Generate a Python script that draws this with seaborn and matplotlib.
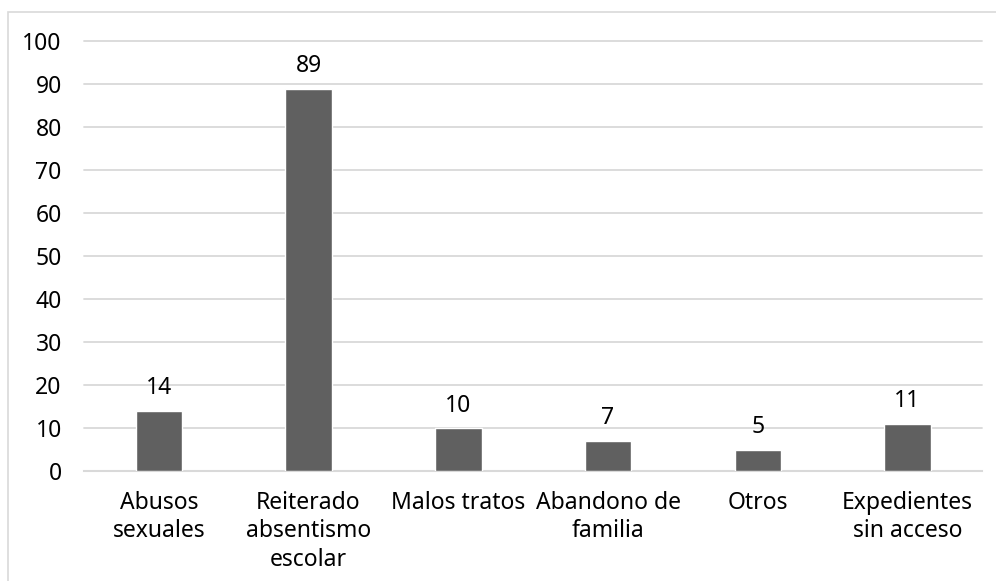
import matplotlib
matplotlib.use('Agg')
import matplotlib.pyplot as plt
import seaborn as sns
import pandas as pd
from matplotlib.patches import Rectangle

# Data
categories = ['Abusos\nsexuales', 'Reiterado\nabsentismo\nescolar', 'Malos tratos',
              'Abandono de\nfamilia', 'Otros', 'Expedientes\nsin acceso']
values = [14, 89, 10, 7, 5, 11]
y_ticks = [0, 10, 20, 30, 40, 50, 60, 70, 80, 90, 100]

df = pd.DataFrame({'Categoria': categories, 'Valor': values})

sns.set_style('white')
plt.rcParams['font.family'] = ['Noto Sans', 'DejaVu Sans']

fig = plt.figure(figsize=(9.96, 5.81), dpi=100)
ax = fig.add_axes([0.0843, 0.189, 0.902, 0.740])

sns.barplot(data=df, x='Categoria', y='Valor', color='#606060', saturation=1,
            width=0.31, ax=ax, zorder=3)

# value labels above bars
for i, v in enumerate(values):
    ax.annotate(str(v), xy=(i, v), xytext=(0, 12), textcoords='offset points',
                ha='center', va='baseline', fontsize=16.5, color='#000000')

ax.set_ylim(0, 100)
ax.set_yticks(y_ticks)
ax.set_xlim(-0.5, len(categories) - 0.5)
ax.yaxis.grid(True, color='#d9d9d9', linewidth=1.3, zorder=0)
for gl in ax.get_ygridlines():
    gl.set_clip_on(False)
ax.set_axisbelow(True)
for s in ['top', 'right', 'left']:
    ax.spines[s].set_visible(False)
ax.spines['bottom'].set_color('#d9d9d9')
ax.spines['bottom'].set_linewidth(1.5)
ax.tick_params(axis='both', length=0, labelsize=16.5, colors='#000000')
ax.tick_params(axis='y', pad=16)
ax.tick_params(axis='x', pad=14)
for lbl in ax.get_xticklabels():
    lbl.set_linespacing(1.25)
ax.set_xlabel('')
ax.set_ylabel('')

# light frame around the chart area
fig.patches.append(Rectangle((8 / 996, -0.1), 1.2, 1 - 12 / 581 + 0.1, transform=fig.transFigure,
                             fill=False, edgecolor='#d9d9d9', linewidth=1.2))

fig.savefig('out.png', dpi=100)
